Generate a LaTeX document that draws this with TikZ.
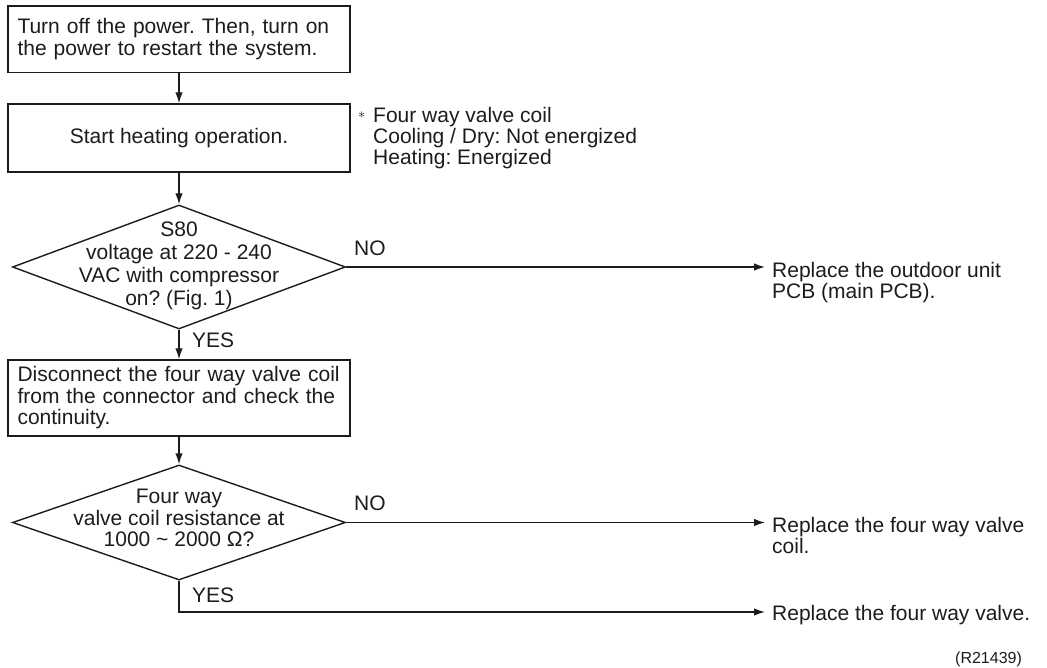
\documentclass[tikz,border=0pt]{standalone}
\usepackage{fontspec}
\setmainfont{Liberation Sans}
\frenchspacing
\usetikzlibrary{shapes.geometric,arrows.meta}
\definecolor{ink}{RGB}{30,27,28}
\begin{document}
\begin{tikzpicture}[x=1pt,y=-1pt,
  every node/.style={text=ink, font=\fontsize{21}{21.5}\selectfont\frenchspacing},
  stepbox/.style={draw=ink, line width=1.4pt, rectangle, minimum width=342pt, inner xsep=9.5pt, inner ysep=0pt},
  decision/.style={draw=ink, line width=1.4pt, diamond, inner sep=0pt},
  dtext/.style={align=center, inner sep=0pt},
  lbl/.style={anchor=base west, inner sep=0pt},
  res/.style={anchor=north west, inner sep=0pt, align=left},
  conn/.style={draw=ink, line width=1.4pt, -{Latex[length=11pt,width=7.5pt]}},
]
\useasboundingbox (0,0) rectangle (1047,668);

% process boxes
\node[stepbox, minimum height=66.7pt, text width=323pt, align=left] (b1) at (179,39.3)
  {Turn off the power. Then, turn on\\the power to restart the system.};
\node[stepbox, minimum height=68pt] (b2) at (179,138) {Start heating operation.};
\node[stepbox, minimum height=76pt, text width=323pt, align=left] (b3) at (179,398)
  {Disconnect the four way valve coil\\from the connector and check the\\continuity.};

% decisions
\node[decision, minimum width=333pt, minimum height=124pt] (d1) at (179,267) {};
\node[dtext, font=\fontsize{21}{23}\selectfont\frenchspacing] (d1t) at (179,266)
  {S80\\voltage at 220 - 240\\VAC with compressor\\on? (Fig.~1)};
\node[decision, minimum width=333pt, minimum height=115pt] (d2) at (179,522.5) {};
\node[dtext] (d2t) at (179,518)
  {Four way\\valve coil resistance at\\1000 \textasciitilde{} 2000 Ω?};

% note
\node[res, font=\fontsize{21}{21}\selectfont\frenchspacing] (note) at (373,106.7)
  {\llap{\raisebox{3.5pt}{\fontsize{14}{14}\selectfont$\ast$}\hspace{8pt}}Four way valve coil\\Cooling / Dry: Not energized\\Heating: Energized};

% results
\node[res] (r1) at (772,261.7) {Replace the outdoor unit\\PCB (main PCB).};
\node[res] (r2) at (772,516.7) {Replace the four way valve\\coil.};
\node[res] (r3) at (772,604.7) {Replace the four way valve.};

\coordinate (n1) at (765,267);
\coordinate (n2) at (765,522.5);
\coordinate (n3) at (765,612);

% connectors
\draw[conn] (b1) -- (b2);
\draw[conn] (b2) -- (d1);
\draw[conn] (d1) -- (b3);
\draw[conn] (b3) -- (d2);
\draw[conn] (d1.east) -- (n1);
\draw[conn] (d2.east) -- (n2);
\draw[conn] (d2.south) |- (n3);

% labels
\node[lbl] (yes1) at (192,348) {YES};
\node[lbl] (no1) at (354,256) {NO};
\node[lbl] (no2) at (354,510) {NO};
\node[lbl] (yes2) at (192,602) {YES};
\node[lbl, font=\fontsize{16}{16}\selectfont] (code) at (955,663) {(R21439)};
\end{tikzpicture}
\end{document}
